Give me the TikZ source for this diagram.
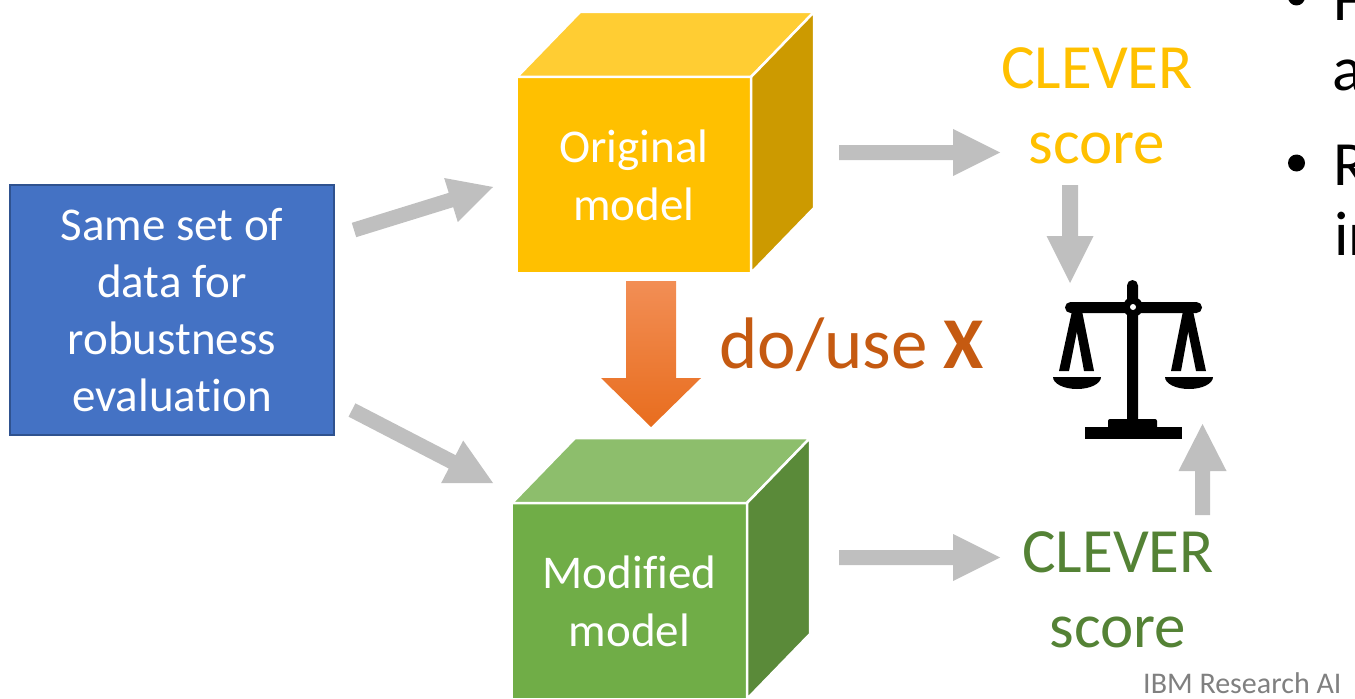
\documentclass[tikz,border=0pt]{standalone}
\usepackage{fontspec}
\setmainfont{Carlito}[Ligatures={NoCommon}]
\usetikzlibrary{calc}

\definecolor{datablue}{HTML}{4472C4}
\definecolor{databorder}{HTML}{2F528F}
\definecolor{arrowgray}{HTML}{BFBFBF}
\definecolor{origfront}{HTML}{FFC000}
\definecolor{origtop}{HTML}{FFCD33}
\definecolor{origside}{HTML}{CC9A00}
\definecolor{modfront}{HTML}{70AD47}
\definecolor{modtop}{HTML}{8DBE6C}
\definecolor{modside}{HTML}{5A8A39}
\definecolor{cleverorange}{HTML}{FFC000}
\definecolor{clevergreen}{HTML}{548235}
\definecolor{dotext}{HTML}{C55A11}
\definecolor{shadetop}{HTML}{F28E55}
\definecolor{shadebottom}{HTML}{E86D1E}
\definecolor{footgray}{HTML}{808080}

% block arrow: style, from, to, half shaft width, half head width, head length
\newcommand\blockarrow[6]{%
  \coordinate (ah) at ($(#3)!#6!(#2)$);
  \path[#1] ($(#2)!#4!90:(#3)$) -- ($(ah)!#4!90:(#3)$) -- ($(ah)!#5!90:(#3)$)
    -- (#3) -- ($(ah)!#5!-90:(#3)$) -- ($(ah)!#4!-90:(#3)$) -- ($(#2)!#4!-90:(#3)$) -- cycle;}

% top and side faces of a cube whose front face is node #1
\newcommand\cubefaces[3]{%
  \path[cubeedge, fill=#2] (#1.north west) -- ++(63,65) -- ($(#1.north east)+(63,65)$) -- (#1.north east) -- cycle;
  \path[cubeedge, fill=#3] (#1.north east) -- ++(63,65) -- ($(#1.south east)+(63,65)$) -- (#1.south east) -- cycle;}

\tikzset{
  cubeedge/.style={draw=white, line width=2.5bp, line join=round},
  cubefront/.style={cubeedge, outer sep=0pt, inner sep=0pt, text=white, align=center,
    font=\fontsize{47bp}{58bp}\selectfont, anchor=north west},
  databox/.style={fill=datablue, draw=databorder, line width=2bp, text=white, align=center,
    inner sep=0pt, minimum width=324bp, minimum height=250bp,
    font=\fontsize{47bp}{57bp}\selectfont},
  scoretext/.style={align=center, inner sep=0pt, font=\fontsize{63bp}{75bp}\selectfont},
  bullettext/.style={anchor=base west, inner sep=0pt, font=\fontsize{63bp}{70bp}\selectfont},
  grayarrow/.style={fill=arrowgray},
  orangearrow/.style={top color=shadetop, bottom color=shadebottom},
}

\begin{document}
\begin{tikzpicture}[x=1bp, y=1bp]
\useasboundingbox (0,0) rectangle (1355,-698);
\clip (0,0) rectangle (1355,-698);

% input data
\node[databox] (data) at (172,-310) {Same set of\\data for\\robustness\\evaluation};

% the two models
\node[cubefront, fill=origfront, minimum width=234bp, minimum height=196bp] (orig) at (517,-77) {Original\\model};
\cubefaces{orig}{origtop}{origside}
\node[cubefront, fill=modfront, minimum width=235bp, minimum height=196bp] (modif) at (512,-503) {Modified\\model};
\cubefaces{modif}{modtop}{modside}

% scores and the intervention label
\node[scoretext, text=cleverorange] (score1) at (1097,-106) {CLEVER\\score};
\node[scoretext, text=clevergreen] (score2) at (1118,-589.5) {CLEVER\\score};
\node[anchor=base west, inner sep=0pt, text=dotext, font=\fontsize{73bp}{88bp}\selectfont] (dox) at (719,-368) {do/use \textbf{X}};

% balance
\node[minimum width=150bp, minimum height=162bp, inner sep=0pt] (balance) at (1133,-359) {};
\begin{scope}[fill=black]
  \fill[rounded corners=5.5bp] (1127,-426) -- (1127,-280) -- (1138,-280) -- (1138,-426) -- cycle;
  \fill[rounded corners=5.5bp] (1065,-302) rectangle (1202,-313);
  \fill (1133,-307) circle (10);
  \fill[white] (1133,-307) circle (3);
  % left hanger and pan
  \fill (1072,-311) -- (1081,-311) -- (1069,-371) -- (1059,-371) -- cycle;
  \fill (1073,-311) -- (1082,-311) -- (1094,-371) -- (1084,-371) -- cycle;
  \fill (1053,-377) -- (1101,-377) arc[start angle=0, end angle=-180, x radius=24bp, y radius=12bp] -- cycle;
  % right hanger and pan
  \fill (1183,-311) -- (1192,-311) -- (1181,-371) -- (1171,-371) -- cycle;
  \fill (1184,-311) -- (1193,-311) -- (1206,-371) -- (1196,-371) -- cycle;
  \fill (1165,-377) -- (1213,-377) arc[start angle=0, end angle=-180, x radius=24bp, y radius=12bp] -- cycle;
  % base
  \fill[rounded corners=2bp] (1108,-429) rectangle (1157,-419);
  \fill (1085,-427) rectangle (1182,-439);
\end{scope}

% connector end points
\coordinate (a1s) at (354,-230);    \coordinate (a1e) at (493,-187);
\coordinate (a2s) at (352,-410);    \coordinate (a2e) at (493,-483);
\coordinate (a3s) at (839,-152.5);  \coordinate (a3e) at (1000,-152.5);
\coordinate (a4s) at (839,-557.5);  \coordinate (a4e) at (1000,-557.5);
\coordinate (a5s) at (1070,-185);   \coordinate (a5e) at (1070,-283);
\coordinate (a6s) at (1202.5,-515); \coordinate (a6e) at (1202.5,-424);
\coordinate (oas) at (651,-281);    \coordinate (oae) at (651,-427);

\blockarrow{grayarrow}{a1s}{a1e}{7.5bp}{23bp}{44bp}
\blockarrow{grayarrow}{a2s}{a2e}{7.5bp}{24bp}{46bp}
\blockarrow{grayarrow}{a3s}{a3e}{7.5bp}{23.5bp}{47bp}
\blockarrow{grayarrow}{a4s}{a4e}{7.5bp}{23.5bp}{47bp}
\blockarrow{grayarrow}{a5s}{a5e}{8bp}{23.5bp}{47bp}
\blockarrow{grayarrow}{a6s}{a6e}{7.5bp}{24bp}{47bp}
\blockarrow{orangearrow}{oas}{oae}{25bp}{50bp}{49bp}

% bullet list at the right edge
\fill (1296.5,3) circle (8.5);
\fill (1296.5,-163) circle (8.5);
\node[bullettext] (b1) at (1333,-21) {F};
\node[bullettext] (b1b) at (1332,-91) {a};
\node[bullettext] (b2) at (1333,-185) {R};
\node[bullettext] (b2b) at (1334,-255) {in};

% footer
\node[anchor=base west, inner sep=0pt, text=footgray, font=\fontsize{30bp}{36bp}\selectfont] (foot) at (1143,-693) {IBM Research AI};
\end{tikzpicture}
\end{document}
